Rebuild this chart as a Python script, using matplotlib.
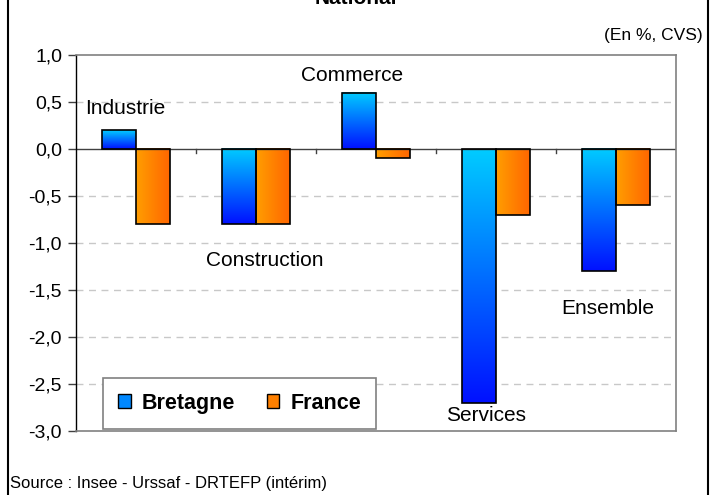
import matplotlib.pyplot as plt
from matplotlib.colors import LinearSegmentedColormap
from matplotlib.patches import Patch
from matplotlib.lines import Line2D
import numpy as np

categories = ["Industrie", "Construction", "Commerce", "Services", "Ensemble"]
bretagne = [0.2, -0.8, 0.6, -2.7, -1.3]
france = [-0.8, -0.8, -0.1, -0.7, -0.6]
series_names = ["Bretagne", "France"]
yticks = [1.0, 0.5, 0.0, -0.5, -1.0, -1.5, -2.0, -2.5, -3.0]

# label positions (data coords)
label_pos = [(-0.09, 0.43), (1.075, -1.19), (1.8, 0.78), (2.92, -2.84), (3.93, -1.70)]

plt.rcParams["font.family"] = ["Liberation Sans", "DejaVu Sans"]

fig = plt.figure(figsize=(7.18, 4.95), dpi=100)
W, H = 718, 495
ax = fig.add_axes([76 / W, 1 - 431 / H, 600 / W, 376 / H])

blue_cmap = LinearSegmentedColormap.from_list("b", ["#0010FF", "#00CCFF"])
orange_cmap = LinearSegmentedColormap.from_list("o", ["#FF9E00", "#FF6600"])
vgrad = np.linspace(0, 1, 256).reshape(-1, 1)
hgrad = np.linspace(0, 1, 256).reshape(1, -1)

bw = 0.283
x = np.arange(len(categories))
for i in range(len(categories)):
    # Bretagne: vertical gradient, cyan on top, blue at bottom
    x0, x1 = x[i] - bw, x[i]
    lo, hi = min(0, bretagne[i]), max(0, bretagne[i])
    ax.imshow(vgrad, cmap=blue_cmap, extent=[x0, x1, lo, hi], origin="lower",
              aspect="auto", zorder=2)
    ax.bar(x0, bretagne[i], bw, align="edge", facecolor="none",
           edgecolor="black", linewidth=1.2, zorder=3)
    # France: horizontal gradient
    x0, x1 = x[i], x[i] + bw
    lo, hi = min(0, france[i]), max(0, france[i])
    ax.imshow(hgrad, cmap=orange_cmap, extent=[x0, x1, lo, hi], origin="lower",
              aspect="auto", zorder=2)
    ax.bar(x0, france[i], bw, align="edge", facecolor="none",
           edgecolor="black", linewidth=1.2, zorder=3)

for name, (lx, ly) in zip(categories, label_pos):
    ax.text(lx, ly, name, ha="center", va="center", fontsize=15, zorder=4)

ax.set_xlim(-0.5, len(categories) - 0.5)
ax.set_ylim(-3.0, 1.0)

for y in yticks:
    if y in (0.0, 1.0, -3.0):
        continue
    ax.axhline(y, color="#c8c8c8", linestyle=(0, (5, 4)), linewidth=1.0, zorder=1)
ax.axhline(0, color="#404040", linewidth=1.0, zorder=2.5)

# category boundary ticks on the zero line
for b in np.arange(0.5, len(categories) - 0.5, 1.0):
    ax.plot([b, b], [0, -0.04], color="#404040", linewidth=1.0,
            clip_on=False, zorder=2.5)

ax.set_yticks(yticks)
ax.set_yticklabels([f"{v:.1f}".replace(".", ",") for v in yticks], fontsize=14)
ax.tick_params(axis="y", direction="out", length=6, width=1.0, color="#404040", pad=4)
ax.set_xticks([])

for side in ("top", "right", "bottom"):
    ax.spines[side].set_color("#808080")
    ax.spines[side].set_linewidth(1.2)
ax.spines["left"].set_color("black")
ax.spines["left"].set_linewidth(1.0)

handles = [Patch(facecolor="#0088FF", edgecolor="black", linewidth=1.0),
           Patch(facecolor="#FF8000", edgecolor="black", linewidth=1.0)]
leg = ax.legend(handles, series_names, loc="lower left",
                bbox_to_anchor=(0.045, 0.006, 0.455, 0.133), mode="expand",
                ncol=2, fancybox=False, framealpha=1, edgecolor="#808080",
                prop={"weight": "bold", "size": 15.5}, handlelength=0.6,
                handleheight=0.6, handletextpad=0.5, columnspacing=1.5,
                borderaxespad=0, borderpad=0.7)
leg.get_frame().set_linewidth(1.2)
leg.set_zorder(5)

fig.text(356 / W, 1 - 4 / H, "National", ha="center", va="baseline",
         fontsize=15, fontweight="bold")
fig.text(703 / W, 1 - 40 / H, "(En %, CVS)", ha="right", va="baseline", fontsize=12.5)
fig.text(10 / W, 1 - 488 / H, "Source : Insee - Urssaf - DRTEFP (intérim)",
         ha="left", va="baseline", fontsize=12)

# outer frame (left and right edges)
for fx in (8 / W, 708 / W):
    fig.add_artist(Line2D([fx, fx], [0, 1], transform=fig.transFigure,
                          color="black", linewidth=1.5))

fig.savefig("out.png", dpi=100)
